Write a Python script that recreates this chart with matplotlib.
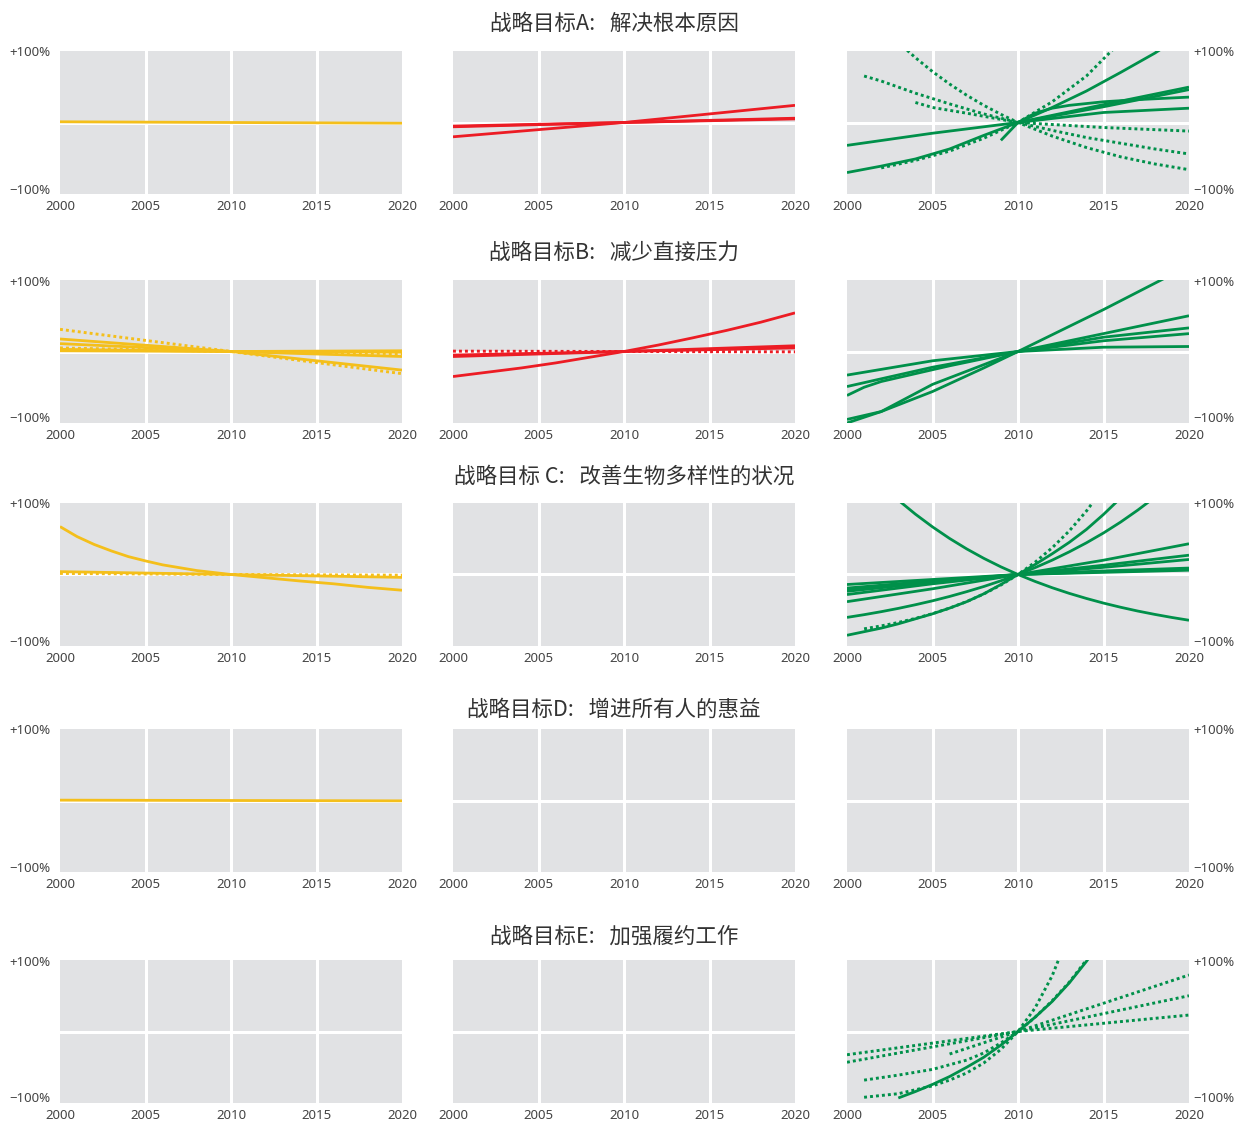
import matplotlib
matplotlib.use("Agg")
import matplotlib.pyplot as plt

# ─── Figure geometry (pixels) ─────────────────────────────────────────────────
W, H = 1235, 1123
COL_LEFT = [60, 453, 847]
ROW_TOP = [51, 280, 503, 729, 960]
PANEL_W, PANEL_H = 342, 143
TITLE_X = [614, 614, 624, 614, 614]
TITLE_Y = [24, 253, 477, 710, 937]

BG = "#e1e2e4"
COLORS = ["#f4bf1b", "#ec1c24", "#00904a"]
CJK = ["Noto Sans CJK SC", "DejaVu Sans"]

TITLES = [
    "战略目标A:   解决根本原因",
    "战略目标B:   减少直接压力",
    "战略目标 C:   改善生物多样性的状况",
    "战略目标D:   增进所有人的惠益",
    "战略目标E:   加强履约工作",
]
YEAR_TICKS = [2000, 2005, 2010, 2015, 2020]

# ─── Data: (years, % change vs 2010) per line ─────────────────────────────────
A1_SOLID = [([2000, 2010, 2020], [1, 0, -1])]
A2_SOLID = [
    ([2000, 2005, 2010, 2015, 2020], [-20, -10, 0, 12, 24]),
    ([2000, 2010, 2020], [-5, 0, 5]),
    ([2000, 2010, 2020], [-6, 0, 6]),
]
A3_SOLID = [
    ([2000, 2005, 2010, 2015, 2020], [-32, -15, 0, 14, 20]),
    ([2000, 2002, 2004, 2006, 2008, 2010, 2012, 2014, 2016, 2018, 2020],
     [-70, -61, -51, -37, -18, 0, 21, 44, 70, 97, 128]),
    ([2009, 2010, 2011, 2012, 2013, 2015, 2017, 2020], [-25, 0, 13, 20, 24, 29, 32, 35.5]),
    ([2010, 2015, 2020], [0, 25, 49.5]),
    ([2010, 2015, 2020], [0, 22, 46]),
]
A3_DOTTED = [
    ([2003, 2004, 2005, 2006, 2007, 2008, 2009, 2010, 2012, 2014, 2016, 2018, 2020],
     [112, 90.7, 71.2, 53.8, 38.1, 24, 11.4, 0, -19, -35, -48, -58, -66]),
    ([2001, 2002, 2004, 2006, 2008, 2010, 2012, 2014, 2016, 2018, 2020],
     [65, 58, 41, 26, 12, 0, -11, -21, -29, -37, -44]),
    ([2004, 2005, 2007, 2010, 2015, 2020], [28, 21, 13, 0, -7, -12]),
    ([2002, 2004, 2006, 2008, 2010, 2012, 2014, 2016], [-63.5, -53, -40, -22, 0, 29, 65, 113]),
]

B1_SOLID = [
    ([2000, 2010, 2020], [17.5, 0, -26]),
    ([2000, 2010, 2020], [11, 0, -7]),
    ([2000, 2010, 2020], [1, 0, -1]),
    ([2000, 2010, 2020], [3, 0, 1]),
]
B1_DOTTED = [
    ([2000, 2010, 2020], [31, 0, -31]),
    ([2000, 2010, 2020], [5, 0, -3]),
]
B2_SOLID = [
    ([2000, 2002, 2004, 2006, 2008, 2010, 2012, 2014, 2016, 2018, 2020],
     [-35, -29, -23, -16, -8, 0, 9, 19, 29.5, 41, 54]),
    ([2000, 2010, 2020], [-7, 0, 8]),
    ([2000, 2010, 2020], [-5, 0, 5]),
]
B2_DOTTED = [([2000, 2010, 2020], [0.5, 0, -0.5])]
B3_SOLID = [
    ([2000, 2002, 2005, 2008, 2010, 2015, 2020], [-95, -84, -56, -23, 0, 58.6, 120]),
    ([2000, 2002, 2005, 2010, 2015, 2020], [-100, -84, -46, 0, 25, 50]),
    ([2000, 2001, 2002, 2004, 2006, 2008, 2010, 2015, 2020], [-61.5, -50, -42, -31, -20, -10, 0, 20, 33]),
    ([2000, 2005, 2010, 2015, 2020], [-49, -22, 0, 15, 25]),
    ([2000, 2005, 2010, 2015, 2020], [-33, -13, 0, 6, 7]),
]

C1_SOLID = [
    ([2000, 2001, 2002, 2003, 2004, 2005, 2006, 2008, 2010, 2012, 2014, 2016, 2018, 2020],
     [67, 53, 42, 33, 25, 19, 13.5, 5.5, 0, -4.5, -9, -13, -18, -22]),
    ([2000, 2010, 2020], [4, 0, -4]),
]
C1_DOTTED = [([2000, 2010, 2020], [1.5, 0, -1])]
C3_SOLID = [
    ([2002, 2003, 2004, 2005, 2006, 2007, 2008, 2009, 2010, 2011, 2012, 2013, 2014,
      2015, 2016, 2017, 2018, 2019, 2020],
     [126, 104, 84.4, 66.6, 50.4, 35.8, 22.6, 10.7, 0, -9.7, -18.5, -26.4, -33.5,
      -40, -45.8, -51.1, -55.8, -60.1, -64]),
    ([2000, 2001, 2002, 2003, 2004, 2005, 2006, 2007, 2008, 2009, 2010, 2011, 2012,
      2013, 2014, 2015, 2016],
     [-85, -80, -75, -69, -62, -55, -47, -38, -27, -14, 0, 14, 29, 45, 63, 84, 107]),
    ([2000, 2001, 2002, 2003, 2004, 2005, 2006, 2007, 2008, 2009, 2010, 2011, 2012,
      2013, 2014, 2015, 2016, 2017, 2018],
     [-60, -56.2, -52, -47.4, -42.3, -36.8, -30.7, -24, -16.8, -8.8, 0, 9.6, 20.1,
      31.7, 44.3, 58.1, 73.3, 90, 108]),
    ([2000, 2005, 2010, 2015, 2020], [-38, -20, 0, 20, 43]),
    ([2000, 2005, 2010, 2015, 2020], [-28, -13, 0, 13, 27]),
    ([2000, 2005, 2010, 2015, 2020], [-23.5, -11, 0, 10, 21]),
    ([2000, 2005, 2010, 2015, 2020], [-21, -10, 0, 5, 9]),
    ([2000, 2005, 2010, 2015, 2020], [-19, -9, 0, 4, 7]),
    ([2000, 2005, 2010, 2015, 2020], [-14, -7, 0, 3, 6]),
]
C3_DOTTED = [
    ([2001, 2002, 2003, 2004, 2005, 2006, 2007, 2008, 2009, 2010, 2011, 2012, 2013,
      2014, 2015],
     [-76, -71.9, -67.1, -61.4, -54.8, -47, -37.9, -27.2, -14.7, 0, 17.2, 37.4, 61,
      88.7, 121]),
]

D1_SOLID = [([2000, 2010, 2020], [0.5, 0, -0.5])]

E3_SOLID = [
    ([2003, 2004, 2005, 2006, 2007, 2008, 2009, 2010, 2011, 2012, 2013, 2014, 2015],
     [-93, -84, -74, -63, -50, -36, -19, 0, 20, 42, 68, 98, 132]),
]
E3_DOTTED = [
    ([2000, 2010, 2020], [-32.5, 0, 23]),
    ([2000, 2010, 2020], [-43, 0, 50]),
    ([2006, 2010, 2020], [-31.5, 0, 79]),
    ([2001, 2003, 2005, 2007, 2008, 2009, 2010, 2011, 2012, 2013, 2014, 2015],
     [-68, -61, -53, -40, -30, -16, 0, 20, 43, 69, 100, 135]),
    ([2001, 2003, 2005, 2006, 2007, 2008, 2009, 2010, 2011, 2012, 2013],
     [-92, -87, -76, -68, -58, -44, -25, 0, 33, 78, 138]),
]

PANELS = {
    (0, 0): (A1_SOLID, []), (0, 1): (A2_SOLID, []), (0, 2): (A3_SOLID, A3_DOTTED),
    (1, 0): (B1_SOLID, B1_DOTTED), (1, 1): (B2_SOLID, B2_DOTTED), (1, 2): (B3_SOLID, []),
    (2, 0): (C1_SOLID, C1_DOTTED), (2, 1): ([], []), (2, 2): (C3_SOLID, C3_DOTTED),
    (3, 0): (D1_SOLID, []), (3, 1): ([], []), (3, 2): ([], []),
    (4, 0): ([], []), (4, 1): ([], []), (4, 2): (E3_SOLID, E3_DOTTED),
}

# ─── Drawing ──────────────────────────────────────────────────────────────────
fig = plt.figure(figsize=(W / 100, H / 100), dpi=100)
TICK_FONT = dict(fontsize=9.5, color="#444444", family="Noto Sans")

for r in range(5):
    fig.text(TITLE_X[r] / W, 1 - TITLE_Y[r] / H, TITLES[r], ha="center", va="center",
             fontsize=15.5, color="#333333", family=CJK)
    for c in range(3):
        ax = fig.add_axes([COL_LEFT[c] / W, 1 - (ROW_TOP[r] + PANEL_H) / H,
                           PANEL_W / W, PANEL_H / H])
        ax.set_facecolor(BG)
        ax.set_xlim(2000, 2020)
        ax.set_ylim(-100, 100)
        for s in ax.spines.values():
            s.set_visible(False)
        ax.set_xticks(YEAR_TICKS)
        ax.set_xticklabels([str(y) for y in YEAR_TICKS], family="Noto Sans")
        ax.set_yticks([])
        ax.tick_params(axis="x", length=0, pad=4.5, labelsize=9.5, labelcolor="#444444")

        for x in YEAR_TICKS[1:-1]:
            ax.axvline(x, color="white", lw=2.2, zorder=1)
        ax.axhline(0, color="white", lw=2.2, zorder=1)

        solid, dotted = PANELS[(r, c)]
        for years, vals in solid:
            ax.plot(years, vals, color=COLORS[c], lw=2.0, zorder=3,
                    solid_capstyle="butt", solid_joinstyle="round")
        for years, vals in dotted:
            ax.plot(years, vals, color=COLORS[c], lw=2.1, zorder=3,
                    linestyle=(0, (1, 1.05)), dash_capstyle="butt")

        if c == 0:
            ax.text(-0.029, 1 - 2 / PANEL_H, "+100%", transform=ax.transAxes,
                    ha="right", va="center", **TICK_FONT)
            ax.text(-0.029, 4 / PANEL_H, "\u2212100%", transform=ax.transAxes,
                    ha="right", va="center", **TICK_FONT)
        if c == 2:
            ax.text(1.012, 1 - 2 / PANEL_H, "+100%", transform=ax.transAxes,
                    ha="left", va="center", **TICK_FONT)
            ax.text(1.012, 4 / PANEL_H, "\u2212100%", transform=ax.transAxes,
                    ha="left", va="center", **TICK_FONT)

fig.savefig("out.png", dpi=100)
